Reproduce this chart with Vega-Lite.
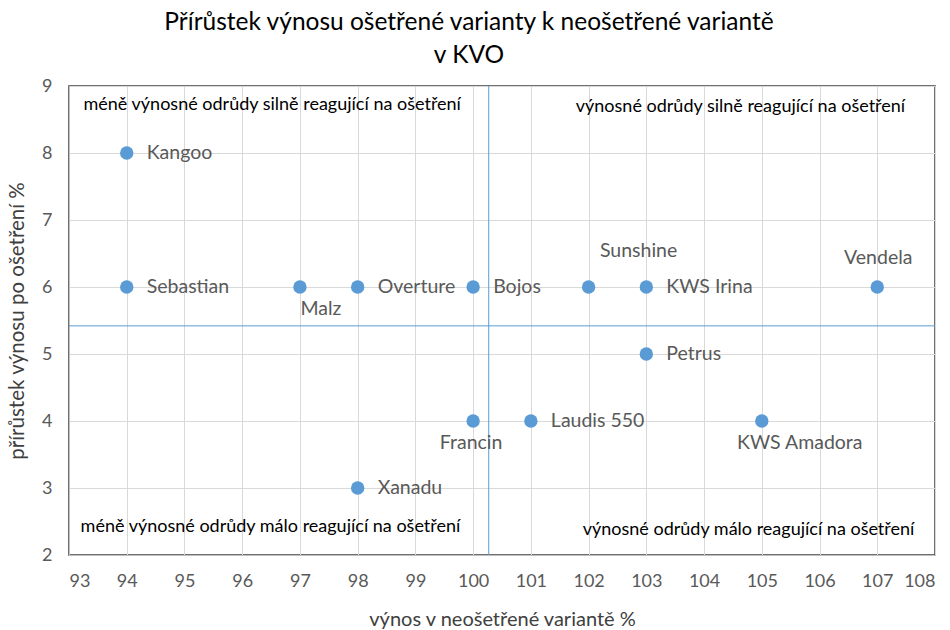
{
  "$schema": "https://vega.github.io/schema/vega-lite/v6.json",
  "autosize": "none",
  "width": 866,
  "height": 469,
  "padding": {"left": 69, "top": 86, "right": 15, "bottom": 75},
  "background": "white",
  "config": {
    "font": "Lato",
    "view": {"stroke": "#404040", "strokeWidth": 1.5},
    "axis": {
      "grid": true,
      "gridColor": "#d9d9d9",
      "gridWidth": 1,
      "domainColor": "#bfbfbf",
      "ticks": false,
      "labelColor": "#595959",
      "labelFontSize": 18,
      "labelFont": "Lato",
      "titleColor": "#404040",
      "titleFont": "Lato",
      "titleFontWeight": "normal"
    }
  },
  "title": {
    "text": ["Přírůstek výnosu ošetřené varianty k neošetřené variantě", "v KVO"],
    "fontSize": 24.5,
    "font": "Lato",
    "fontWeight": "normal",
    "color": "#000000",
    "anchor": "middle",
    "lineHeight": 33,
    "offset": 9,
    "dx": -33
  },
  "datasets": {
    "pts": [
      {"name": "Kangoo", "vynos": 94, "prirustek": 8},
      {"name": "Sebastian", "vynos": 94, "prirustek": 6},
      {"name": "Malz", "vynos": 97, "prirustek": 6},
      {"name": "Overture", "vynos": 98, "prirustek": 6},
      {"name": "Bojos", "vynos": 100, "prirustek": 6},
      {"name": "Sunshine", "vynos": 102, "prirustek": 6},
      {"name": "KWS Irina", "vynos": 103, "prirustek": 6},
      {"name": "Vendela", "vynos": 107, "prirustek": 6},
      {"name": "Petrus", "vynos": 103, "prirustek": 5},
      {"name": "Francin", "vynos": 100, "prirustek": 4},
      {"name": "Laudis 550", "vynos": 101, "prirustek": 4},
      {"name": "KWS Amadora", "vynos": 105, "prirustek": 4},
      {"name": "Xanadu", "vynos": 98, "prirustek": 3}
    ],
    "notes": [
      {"text": "méně výnosné odrůdy silně reagující na ošetření", "vynos": 96.52, "prirustek": 8.72},
      {"text": "výnosné odrůdy silně reagující na ošetření", "vynos": 104.63, "prirustek": 8.69},
      {"text": "méně výnosné odrůdy málo reagující na ošetření", "vynos": 96.49, "prirustek": 2.42},
      {"text": "výnosné odrůdy málo reagující na ošetření", "vynos": 104.77, "prirustek": 2.38}
    ],
    "refs": [{"vynos": 100.27, "prirustek": 5.42}]
  },
  "data": {"name": "pts"},
  "encoding": {
    "x": {
      "field": "vynos", "type": "quantitative",
      "scale": {"domain": [93, 108], "nice": false, "zero": false},
      "axis": {
        "values": [93, 94, 95, 96, 97, 98, 99, 100, 101, 102, 103, 104, 105, 106, 107, 108],
        "title": "výnos v neošetřené variantě %",
        "titleFontSize": 20,
        "titlePadding": 19,
        "labelPadding": 17
      }
    },
    "y": {
      "field": "prirustek", "type": "quantitative",
      "scale": {"domain": [2, 9], "nice": false, "zero": false},
      "axis": {
        "values": [2, 3, 4, 5, 6, 7, 8, 9],
        "title": "přírůstek výnosu po ošetření %",
        "titleFontSize": 20.5,
        "titlePadding": 14,
        "labelPadding": 17
      }
    }
  },
  "layer": [
    {
      "data": {"name": "refs"},
      "mark": {"type": "rule", "color": "#5b9bd5", "strokeWidth": 1},
      "encoding": {"y": null}
    },
    {
      "data": {"name": "refs"},
      "mark": {"type": "rule", "color": "#5b9bd5", "strokeWidth": 1},
      "encoding": {"x": null}
    },
    {
      "mark": {"type": "circle", "size": 180, "color": "#5b9bd5", "opacity": 1}
    },
    {
      "transform": [{"filter": {"field": "name", "oneOf": ["Kangoo", "Sebastian", "Overture", "Bojos", "KWS Irina", "Petrus", "Laudis 550", "Xanadu"]}}],
      "mark": {"type": "text", "align": "left", "baseline": "middle", "dx": 20, "fontSize": 19.5, "color": "#595959"},
      "encoding": {"text": {"field": "name"}}
    },
    {
      "transform": [{"filter": {"field": "name", "equal": "Francin"}}],
      "mark": {"type": "text", "align": "center", "baseline": "middle", "dx": -2, "dy": 22, "fontSize": 19.5, "color": "#595959"},
      "encoding": {"text": {"field": "name"}}
    },
    {
      "transform": [{"filter": {"field": "name", "equal": "Malz"}}],
      "mark": {"type": "text", "align": "center", "baseline": "middle", "dx": 21, "dy": 22, "fontSize": 19.5, "color": "#595959"},
      "encoding": {"text": {"field": "name"}}
    },
    {
      "transform": [{"filter": {"field": "name", "equal": "KWS Amadora"}}],
      "mark": {"type": "text", "align": "center", "baseline": "middle", "dx": 38, "dy": 22, "fontSize": 19.5, "color": "#595959"},
      "encoding": {"text": {"field": "name"}}
    },
    {
      "transform": [{"filter": {"field": "name", "equal": "Sunshine"}}],
      "mark": {"type": "text", "align": "center", "baseline": "middle", "dx": 50, "dy": -36, "fontSize": 19.5, "color": "#595959"},
      "encoding": {"text": {"field": "name"}}
    },
    {
      "transform": [{"filter": {"field": "name", "equal": "Vendela"}}],
      "mark": {"type": "text", "align": "center", "baseline": "middle", "dx": 1, "dy": -29, "fontSize": 19.5, "color": "#595959"},
      "encoding": {"text": {"field": "name"}}
    },
    {
      "data": {"name": "notes"},
      "mark": {"type": "text", "align": "center", "baseline": "middle", "fontSize": 18, "color": "#000000"},
      "encoding": {"text": {"field": "text"}}
    }
  ]
}
